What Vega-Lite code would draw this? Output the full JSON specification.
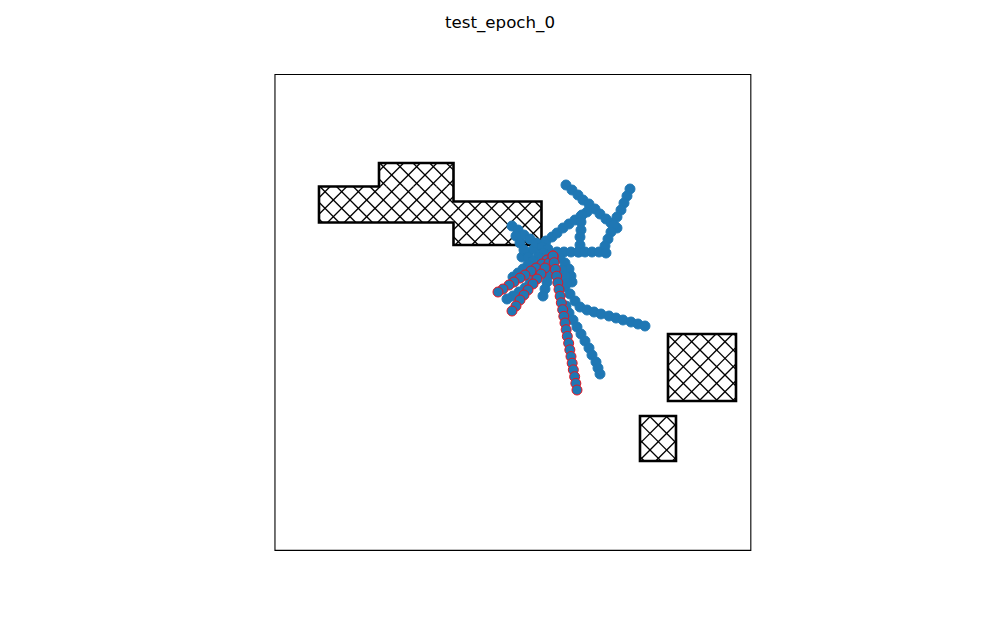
{
  "$schema": "https://vega.github.io/schema/vega-lite/v6.json",
  "width": 475.86,
  "height": 475.86,
  "autosize": {"type": "none"},
  "padding": {"left": 274.57, "top": 74.16, "right": 10, "bottom": 10},
  "title": {"text": "test_epoch_0", "font": "DejaVu Sans", "fontSize": 16.67, "fontWeight": "normal", "color": "black", "anchor": "middle", "dx": -12.5, "baseline": "alphabetic", "offset": 29},
  "config": {"view": {"stroke": "black", "strokeWidth": 1.1}},
  "datasets": {
    "hatch": [
      {"x": 3.14, "y": 21.14, "x2": 3.81, "y2": 21.81}, {"x": 3.14, "y": 20.14, "x2": 4.81, "y2": 21.81},
      {"x": 3.65, "y": 19.65, "x2": 5.81, "y2": 21.81}, {"x": 4.65, "y": 19.65, "x2": 6.81, "y2": 21.81},
      {"x": 5.65, "y": 19.65, "x2": 7.81, "y2": 21.81}, {"x": 6.65, "y": 19.65, "x2": 8.81, "y2": 21.81},
      {"x": 7.65, "y": 19.65, "x2": 9.81, "y2": 21.81}, {"x": 8.65, "y": 19.65, "x2": 10.81, "y2": 21.81},
      {"x": 9.65, "y": 19.65, "x2": 11.21, "y2": 21.21}, {"x": 10.65, "y": 19.65, "x2": 11.21, "y2": 20.21},
      {"x": 3.14, "y": 19.86, "x2": 3.35, "y2": 19.65}, {"x": 3.14, "y": 20.86, "x2": 4.35, "y2": 19.65},
      {"x": 3.19, "y": 21.81, "x2": 5.35, "y2": 19.65}, {"x": 4.19, "y": 21.81, "x2": 6.35, "y2": 19.65},
      {"x": 5.19, "y": 21.81, "x2": 7.35, "y2": 19.65}, {"x": 6.19, "y": 21.81, "x2": 8.35, "y2": 19.65},
      {"x": 7.19, "y": 21.81, "x2": 9.35, "y2": 19.65}, {"x": 8.19, "y": 21.81, "x2": 10.35, "y2": 19.65},
      {"x": 9.19, "y": 21.81, "x2": 11.21, "y2": 19.79}, {"x": 10.19, "y": 21.81, "x2": 11.21, "y2": 20.79},
      {"x": 6.74, "y": 22.74, "x2": 7.22, "y2": 23.22}, {"x": 6.81, "y": 21.81, "x2": 8.22, "y2": 23.22},
      {"x": 7.81, "y": 21.81, "x2": 9.22, "y2": 23.22}, {"x": 8.81, "y": 21.81, "x2": 10.22, "y2": 23.22},
      {"x": 9.81, "y": 21.81, "x2": 11.21, "y2": 23.21}, {"x": 10.81, "y": 21.81, "x2": 11.21, "y2": 22.21},
      {"x": 6.74, "y": 22.26, "x2": 7.19, "y2": 21.81}, {"x": 6.78, "y": 23.22, "x2": 8.19, "y2": 21.81},
      {"x": 7.78, "y": 23.22, "x2": 9.19, "y2": 21.81}, {"x": 8.78, "y": 23.22, "x2": 10.19, "y2": 21.81},
      {"x": 9.78, "y": 23.22, "x2": 11.19, "y2": 21.81}, {"x": 10.78, "y": 23.22, "x2": 11.21, "y2": 22.79},
      {"x": 11.21, "y": 20.21, "x2": 11.91, "y2": 20.91}, {"x": 11.21, "y": 19.21, "x2": 12.91, "y2": 20.91},
      {"x": 11.3, "y": 18.3, "x2": 13.91, "y2": 20.91}, {"x": 12.3, "y": 18.3, "x2": 14.91, "y2": 20.91},
      {"x": 13.3, "y": 18.3, "x2": 15.91, "y2": 20.91}, {"x": 14.3, "y": 18.3, "x2": 16.49, "y2": 20.49},
      {"x": 15.3, "y": 18.3, "x2": 16.49, "y2": 19.49}, {"x": 16.3, "y": 18.3, "x2": 16.49, "y2": 18.49},
      {"x": 11.21, "y": 18.79, "x2": 11.7, "y2": 18.3}, {"x": 11.21, "y": 19.79, "x2": 12.7, "y2": 18.3},
      {"x": 11.21, "y": 20.79, "x2": 13.7, "y2": 18.3}, {"x": 12.09, "y": 20.91, "x2": 14.7, "y2": 18.3},
      {"x": 13.09, "y": 20.91, "x2": 15.7, "y2": 18.3}, {"x": 14.09, "y": 20.91, "x2": 16.49, "y2": 18.51},
      {"x": 15.09, "y": 20.91, "x2": 16.49, "y2": 19.51}, {"x": 16.09, "y": 20.91, "x2": 16.49, "y2": 20.51},
      {"x": 24.08, "y": 12.08, "x2": 24.96, "y2": 12.96}, {"x": 24.08, "y": 11.08, "x2": 25.96, "y2": 12.96},
      {"x": 24.08, "y": 10.08, "x2": 26.96, "y2": 12.96}, {"x": 24.08, "y": 9.08, "x2": 27.96, "y2": 12.96},
      {"x": 24.94, "y": 8.94, "x2": 28.16, "y2": 12.16}, {"x": 25.94, "y": 8.94, "x2": 28.16, "y2": 11.16},
      {"x": 26.94, "y": 8.94, "x2": 28.16, "y2": 10.16}, {"x": 27.94, "y": 8.94, "x2": 28.16, "y2": 9.16},
      {"x": 24.08, "y": 9.92, "x2": 25.06, "y2": 8.94}, {"x": 24.08, "y": 10.92, "x2": 26.06, "y2": 8.94},
      {"x": 24.08, "y": 11.92, "x2": 27.06, "y2": 8.94}, {"x": 24.08, "y": 12.92, "x2": 28.06, "y2": 8.94},
      {"x": 25.04, "y": 12.96, "x2": 28.16, "y2": 9.84}, {"x": 26.04, "y": 12.96, "x2": 28.16, "y2": 10.84},
      {"x": 27.04, "y": 12.96, "x2": 28.16, "y2": 11.84}, {"x": 28.04, "y": 12.96, "x2": 28.16, "y2": 12.84},
      {"x": 22.4, "y": 7.4, "x2": 23.04, "y2": 8.04}, {"x": 22.4, "y": 6.4, "x2": 24.04, "y2": 8.04},
      {"x": 22.4, "y": 5.4, "x2": 24.56, "y2": 7.56}, {"x": 23.34, "y": 5.34, "x2": 24.56, "y2": 6.56},
      {"x": 24.34, "y": 5.34, "x2": 24.56, "y2": 5.56},
      {"x": 22.4, "y": 5.6, "x2": 22.66, "y2": 5.34}, {"x": 22.4, "y": 6.6, "x2": 23.66, "y2": 5.34},
      {"x": 22.4, "y": 7.6, "x2": 24.56, "y2": 5.44}, {"x": 22.96, "y": 8.04, "x2": 24.56, "y2": 6.44},
      {"x": 23.96, "y": 8.04, "x2": 24.56, "y2": 7.44}
    ],
    "obstacles": [
      {"o": 1, "i": 0, "x": 7, "y": 19.65}, {"o": 1, "i": 1, "x": 3.14, "y": 19.65}, {"o": 1, "i": 2, "x": 3.14, "y": 21.81},
      {"o": 1, "i": 3, "x": 6.74, "y": 21.81}, {"o": 1, "i": 4, "x": 6.74, "y": 23.22}, {"o": 1, "i": 5, "x": 11.21, "y": 23.22},
      {"o": 1, "i": 6, "x": 11.21, "y": 20.91}, {"o": 1, "i": 7, "x": 16.49, "y": 20.91}, {"o": 1, "i": 8, "x": 16.49, "y": 18.3},
      {"o": 1, "i": 9, "x": 11.21, "y": 18.3}, {"o": 1, "i": 10, "x": 11.21, "y": 19.65}, {"o": 1, "i": 11, "x": 7, "y": 19.65},
      {"o": 2, "i": 0, "x": 26, "y": 8.94}, {"o": 2, "i": 1, "x": 24.08, "y": 8.94}, {"o": 2, "i": 2, "x": 24.08, "y": 12.96},
      {"o": 2, "i": 3, "x": 28.16, "y": 12.96}, {"o": 2, "i": 4, "x": 28.16, "y": 8.94}, {"o": 2, "i": 5, "x": 26, "y": 8.94},
      {"o": 3, "i": 0, "x": 23.5, "y": 5.34}, {"o": 3, "i": 1, "x": 22.4, "y": 5.34}, {"o": 3, "i": 2, "x": 22.4, "y": 8.04},
      {"o": 3, "i": 3, "x": 24.56, "y": 8.04}, {"o": 3, "i": 4, "x": 24.56, "y": 5.34}, {"o": 3, "i": 5, "x": 23.5, "y": 5.34}
    ],
    "points": [
      {"t": "a", "s": "ok", "x": 17.96, "y": 21.9}, {"t": "a", "s": "ok", "x": 18.32, "y": 21.6}, {"t": "a", "s": "ok", "x": 18.68, "y": 21.3},
      {"t": "a", "s": "ok", "x": 18.98, "y": 21.0}, {"t": "a", "s": "ok", "x": 19.34, "y": 20.76}, {"t": "a", "s": "ok", "x": 19.7, "y": 20.46},
      {"t": "a", "s": "ok", "x": 20.0, "y": 20.16}, {"t": "a", "s": "ok", "x": 20.36, "y": 19.86}, {"t": "a", "s": "ok", "x": 20.66, "y": 19.62},
      {"t": "a", "s": "ok", "x": 21.02, "y": 19.32},
      {"t": "b", "s": "ok", "x": 21.8, "y": 21.66}, {"t": "b", "s": "ok", "x": 21.62, "y": 21.24}, {"t": "b", "s": "ok", "x": 21.44, "y": 20.82},
      {"t": "b", "s": "ok", "x": 21.26, "y": 20.4}, {"t": "b", "s": "ok", "x": 21.02, "y": 19.98}, {"t": "b", "s": "ok", "x": 20.84, "y": 19.5},
      {"t": "b", "s": "ok", "x": 20.66, "y": 19.08}, {"t": "b", "s": "ok", "x": 20.48, "y": 18.66}, {"t": "b", "s": "ok", "x": 20.3, "y": 18.24},
      {"t": "c", "s": "ok", "x": 15.32, "y": 17.58}, {"t": "c", "s": "ok", "x": 15.68, "y": 17.82}, {"t": "c", "s": "ok", "x": 16.04, "y": 18.06},
      {"t": "c", "s": "ok", "x": 16.4, "y": 18.3}, {"t": "c", "s": "ok", "x": 16.76, "y": 18.54}, {"t": "c", "s": "ok", "x": 17.12, "y": 18.78},
      {"t": "c", "s": "ok", "x": 17.42, "y": 19.02}, {"t": "c", "s": "ok", "x": 17.78, "y": 19.32}, {"t": "c", "s": "ok", "x": 18.14, "y": 19.56},
      {"t": "c", "s": "ok", "x": 18.5, "y": 19.8}, {"t": "c", "s": "ok", "x": 18.86, "y": 20.04}, {"t": "c", "s": "ok", "x": 19.22, "y": 20.28},
      {"t": "d", "s": "ok", "x": 18.92, "y": 20.1}, {"t": "d", "s": "ok", "x": 18.86, "y": 19.68}, {"t": "d", "s": "ok", "x": 18.86, "y": 19.2},
      {"t": "d", "s": "ok", "x": 18.8, "y": 18.78}, {"t": "d", "s": "ok", "x": 18.8, "y": 18.3}, {"t": "d", "s": "ok", "x": 18.74, "y": 17.88},
      {"t": "e", "s": "ok", "x": 17.42, "y": 17.88}, {"t": "e", "s": "ok", "x": 17.84, "y": 17.88}, {"t": "e", "s": "ok", "x": 18.26, "y": 17.88},
      {"t": "e", "s": "ok", "x": 18.68, "y": 17.88}, {"t": "e", "s": "ok", "x": 19.1, "y": 17.88}, {"t": "e", "s": "ok", "x": 19.52, "y": 17.88},
      {"t": "e", "s": "ok", "x": 19.94, "y": 17.88}, {"t": "e", "s": "ok", "x": 20.36, "y": 17.82},
      {"t": "f", "s": "ok", "x": 14.72, "y": 19.44}, {"t": "f", "s": "ok", "x": 15.08, "y": 19.2}, {"t": "f", "s": "ok", "x": 15.44, "y": 18.9},
      {"t": "f", "s": "ok", "x": 15.8, "y": 18.66}, {"t": "f", "s": "ok", "x": 16.16, "y": 18.42}, {"t": "f", "s": "ok", "x": 16.52, "y": 18.18},
      {"t": "f", "s": "ok", "x": 16.88, "y": 17.94},
      {"t": "f2", "s": "ok", "x": 14.96, "y": 18.84}, {"t": "f2", "s": "ok", "x": 15.2, "y": 18.42}, {"t": "f2", "s": "ok", "x": 15.44, "y": 18.0},
      {"t": "f2", "s": "ok", "x": 15.68, "y": 17.58},
      {"t": "g", "s": "ok", "x": 17.6, "y": 16.2}, {"t": "g", "s": "ok", "x": 17.9, "y": 15.78}, {"t": "g", "s": "ok", "x": 18.2, "y": 15.36},
      {"t": "g", "s": "ok", "x": 18.5, "y": 14.94}, {"t": "g", "s": "ok", "x": 18.8, "y": 14.58}, {"t": "g", "s": "ok", "x": 19.22, "y": 14.4},
      {"t": "g", "s": "ok", "x": 19.64, "y": 14.28}, {"t": "g", "s": "ok", "x": 20.06, "y": 14.16}, {"t": "g", "s": "ok", "x": 20.54, "y": 14.04},
      {"t": "g", "s": "ok", "x": 20.96, "y": 13.92}, {"t": "g", "s": "ok", "x": 21.38, "y": 13.8}, {"t": "g", "s": "ok", "x": 21.86, "y": 13.68},
      {"t": "g", "s": "ok", "x": 22.28, "y": 13.56}, {"t": "g", "s": "ok", "x": 22.7, "y": 13.44},
      {"t": "h", "s": "ok", "x": 17.96, "y": 14.64}, {"t": "h", "s": "ok", "x": 18.14, "y": 14.22}, {"t": "h", "s": "ok", "x": 18.38, "y": 13.8},
      {"t": "h", "s": "ok", "x": 18.62, "y": 13.38}, {"t": "h", "s": "ok", "x": 18.86, "y": 12.96}, {"t": "h", "s": "ok", "x": 19.1, "y": 12.54},
      {"t": "h", "s": "ok", "x": 19.34, "y": 12.12}, {"t": "h", "s": "ok", "x": 19.52, "y": 11.7}, {"t": "h", "s": "ok", "x": 19.76, "y": 11.28},
      {"t": "h", "s": "ok", "x": 19.88, "y": 10.92}, {"t": "h", "s": "ok", "x": 20.0, "y": 10.56},
      {"t": "i", "s": "ok", "x": 16.7, "y": 17.04}, {"t": "i", "s": "ok", "x": 16.4, "y": 16.68}, {"t": "i", "s": "ok", "x": 16.1, "y": 16.32},
      {"t": "i", "s": "ok", "x": 15.8, "y": 16.02}, {"t": "i", "s": "ok", "x": 15.5, "y": 15.72}, {"t": "i", "s": "ok", "x": 15.14, "y": 15.48},
      {"t": "i", "s": "ok", "x": 14.78, "y": 15.24}, {"t": "i", "s": "ok", "x": 14.42, "y": 15.06},
      {"t": "l", "s": "ok", "x": 16.88, "y": 18.06}, {"t": "l", "s": "ok", "x": 16.58, "y": 17.82}, {"t": "l", "s": "ok", "x": 16.28, "y": 17.58},
      {"t": "l", "s": "ok", "x": 15.98, "y": 17.34}, {"t": "l", "s": "ok", "x": 15.68, "y": 17.1}, {"t": "l", "s": "ok", "x": 15.38, "y": 16.86},
      {"t": "l", "s": "ok", "x": 15.08, "y": 16.62}, {"t": "l", "s": "ok", "x": 14.78, "y": 16.38},
      {"t": "m", "s": "ok", "x": 17.12, "y": 16.92}, {"t": "m", "s": "ok", "x": 16.94, "y": 16.5}, {"t": "m", "s": "ok", "x": 16.82, "y": 16.08},
      {"t": "m", "s": "ok", "x": 16.7, "y": 15.66}, {"t": "m", "s": "ok", "x": 16.58, "y": 15.24},
      {"t": "j", "s": "ok", "x": 17.6, "y": 17.52}, {"t": "j", "s": "ok", "x": 17.9, "y": 17.22}, {"t": "j", "s": "ok", "x": 18.14, "y": 16.86},
      {"t": "j", "s": "ok", "x": 18.26, "y": 16.44}, {"t": "j", "s": "ok", "x": 18.32, "y": 16.08},
      {"t": "j2", "s": "ok", "x": 17.72, "y": 16.8}, {"t": "j2", "s": "ok", "x": 17.9, "y": 16.44}, {"t": "j2", "s": "ok", "x": 18.02, "y": 16.02},
      {"t": "r1", "s": "fail", "x": 17.18, "y": 17.64}, {"t": "r1", "s": "fail", "x": 16.82, "y": 17.4}, {"t": "r1", "s": "fail", "x": 16.52, "y": 17.16},
      {"t": "r1", "s": "fail", "x": 16.16, "y": 16.92}, {"t": "r1", "s": "fail", "x": 15.86, "y": 16.74}, {"t": "r1", "s": "fail", "x": 15.5, "y": 16.5},
      {"t": "r1", "s": "fail", "x": 15.2, "y": 16.32}, {"t": "r1", "s": "fail", "x": 14.84, "y": 16.08}, {"t": "r1", "s": "fail", "x": 14.54, "y": 15.9},
      {"t": "r1", "s": "fail", "x": 14.18, "y": 15.66}, {"t": "r1", "s": "fail", "x": 13.88, "y": 15.48},
      {"t": "r2", "s": "fail", "x": 17.18, "y": 17.52}, {"t": "r2", "s": "fail", "x": 16.94, "y": 17.22}, {"t": "r2", "s": "fail", "x": 16.7, "y": 16.92},
      {"t": "r2", "s": "fail", "x": 16.46, "y": 16.56}, {"t": "r2", "s": "fail", "x": 16.22, "y": 16.26}, {"t": "r2", "s": "fail", "x": 15.98, "y": 15.96},
      {"t": "r2", "s": "fail", "x": 15.68, "y": 15.6}, {"t": "r2", "s": "fail", "x": 15.44, "y": 15.3}, {"t": "r2", "s": "fail", "x": 15.2, "y": 15.0},
      {"t": "r2", "s": "fail", "x": 14.96, "y": 14.64}, {"t": "r2", "s": "fail", "x": 14.72, "y": 14.34},
      {"t": "r3", "s": "fail", "x": 17.18, "y": 17.64}, {"t": "r3", "s": "fail", "x": 17.25, "y": 17.24}, {"t": "r3", "s": "fail", "x": 17.32, "y": 16.84},
      {"t": "r3", "s": "fail", "x": 17.4, "y": 16.43}, {"t": "r3", "s": "fail", "x": 17.47, "y": 16.03}, {"t": "r3", "s": "fail", "x": 17.54, "y": 15.63},
      {"t": "r3", "s": "fail", "x": 17.61, "y": 15.23}, {"t": "r3", "s": "fail", "x": 17.68, "y": 14.83}, {"t": "r3", "s": "fail", "x": 17.76, "y": 14.42},
      {"t": "r3", "s": "fail", "x": 17.83, "y": 14.02}, {"t": "r3", "s": "fail", "x": 17.9, "y": 13.62}, {"t": "r3", "s": "fail", "x": 17.97, "y": 13.22},
      {"t": "r3", "s": "fail", "x": 18.04, "y": 12.82}, {"t": "r3", "s": "fail", "x": 18.12, "y": 12.41}, {"t": "r3", "s": "fail", "x": 18.19, "y": 12.01},
      {"t": "r3", "s": "fail", "x": 18.26, "y": 11.61}, {"t": "r3", "s": "fail", "x": 18.33, "y": 11.21}, {"t": "r3", "s": "fail", "x": 18.4, "y": 10.81},
      {"t": "r3", "s": "fail", "x": 18.48, "y": 10.4}, {"t": "r3", "s": "fail", "x": 18.55, "y": 10.0}, {"t": "r3", "s": "fail", "x": 18.62, "y": 9.6}
    ]
  },
  "encoding": {
    "x": {"type": "quantitative", "scale": {"domain": [0.474, 29.026], "nice": false, "zero": false}, "axis": null},
    "y": {"type": "quantitative", "scale": {"domain": [0, 28.55], "nice": false, "zero": false}, "axis": null}
  },
  "layer": [
    {
      "data": {"name": "hatch"},
      "mark": {"type": "rule", "color": "black", "strokeWidth": 1.3},
      "encoding": {"x": {"field": "x", "type": "quantitative"}, "y": {"field": "y", "type": "quantitative"}, "x2": {"field": "x2"}, "y2": {"field": "y2"}}
    },
    {
      "data": {"name": "obstacles"},
      "mark": {"type": "line", "color": "black", "strokeWidth": 2.6, "strokeJoin": "miter", "strokeCap": "butt"},
      "encoding": {"x": {"field": "x", "type": "quantitative"}, "y": {"field": "y", "type": "quantitative"}, "detail": {"field": "o"}, "order": {"field": "i"}}
    },
    {
      "data": {"name": "points"},
      "mark": {"type": "point", "shape": "circle", "filled": true, "fill": "#1f77b4", "opacity": 1, "size": 100, "strokeWidth": 1},
      "encoding": {
        "x": {"field": "x", "type": "quantitative"},
        "y": {"field": "y", "type": "quantitative"},
        "stroke": {"field": "s", "type": "nominal", "scale": {"domain": ["ok", "fail"], "range": ["#1f77b4", "#e8141e"]}, "legend": null}
      }
    }
  ]
}
